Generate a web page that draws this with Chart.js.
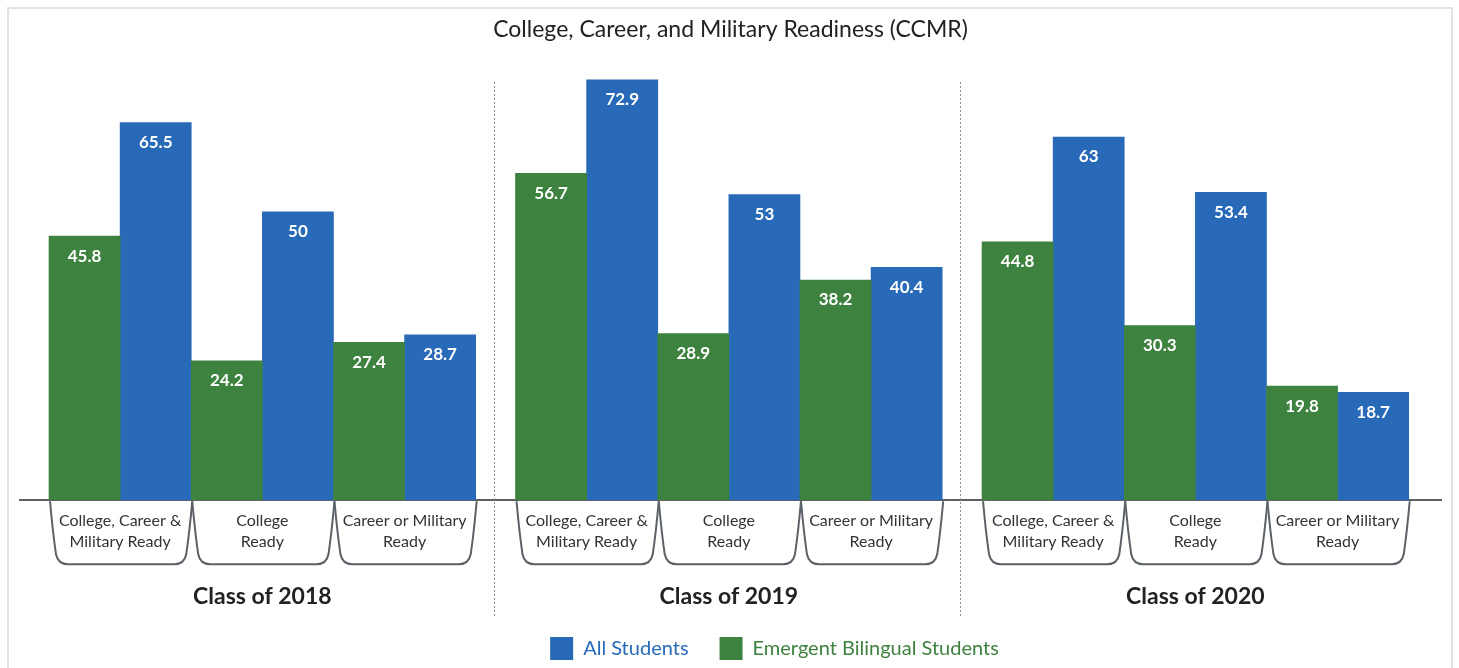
<!DOCTYPE html>
<html>
<head>
<meta charset="utf-8">
<script src="https://cdn.jsdelivr.net/npm/chart.js@4.4.1/dist/chart.umd.min.js"></script>
<style>
  html, body { margin: 0; padding: 0; background: #fff; }
  body { width: 1459px; height: 668px; position: relative; overflow: hidden; }
  #frame { position: absolute; left: 7px; top: 7px; width: 1446px; height: 720px; border: 2px solid #dfe3e5; box-sizing: border-box; }
  #wrap { position: absolute; left: 0; top: 0; width: 1459px; height: 668px; }
</style>
</head>
<body>
<div id="frame"></div>
<div id="wrap"><canvas id="ccmrChart"></canvas></div>
<script>
const classes = ['Class of 2018', 'Class of 2019', 'Class of 2020'];
const categories = [['College, Career &', 'Military Ready'], ['College', 'Ready'], ['Career or Military', 'Ready']];
const emergentBilingual = [45.8, 24.2, 27.4, 56.7, 28.9, 38.2, 44.8, 30.3, 19.8];
const allStudents = [65.5, 50, 28.7, 72.9, 53, 40.4, 63, 53.4, 18.7];

const BLUE = '#2869b8';
const GREEN = '#3e8240';
const GAP = 0.28; // space between classes, in category widths

// category i sits in class floor(i/3), slot i%3
const catX = i => Math.floor(i / 3) * (3 + GAP) + (i % 3) + 0.5;
const classX = k => k * (3 + GAP) + 1.5;

// white numbers inside the top of each bar
const barValues = {
  id: 'barValues',
  afterDatasetsDraw(chart) {
    const ctx = chart.ctx;
    ctx.save();
    ctx.fillStyle = '#fff';
    ctx.font = 'bold 17px Lato, "Open Sans", sans-serif';
    ctx.textAlign = 'center';
    ctx.textBaseline = 'middle';
    chart.data.datasets.forEach((ds, d) => {
      chart.getDatasetMeta(d).data.forEach((bar, i) => {
        ctx.fillText(String(ds.values[i]), bar.x, bar.y + 20);
      });
    });
    ctx.restore();
  }
};

// bracket outlines under each category + dotted class separators
const brackets = {
  id: 'brackets',
  afterDraw(chart) {
    const ctx = chart.ctx;
    const x = chart.scales.x;
    const area = chart.chartArea;
    const yT = area.bottom + 1;
    const yB = area.bottom + 64;
    ctx.save();
    ctx.strokeStyle = '#5b6167';
    ctx.lineWidth = 2;
    for (let i = 0; i < allStudents.length; i++) {
      const xL = x.getPixelForValue(catX(i) - 0.5) + 1;
      const xR = x.getPixelForValue(catX(i) + 0.5) + 1;
      ctx.beginPath();
      ctx.moveTo(xL, yT);
      ctx.quadraticCurveTo(xL + 3, yB - 30, xL + 6, yB - 10);
      ctx.quadraticCurveTo(xL + 8, yB, xL + 18, yB);
      ctx.lineTo(xR - 18, yB);
      ctx.quadraticCurveTo(xR - 8, yB, xR - 6, yB - 10);
      ctx.quadraticCurveTo(xR - 3, yB - 30, xR, yT);
      ctx.stroke();
    }
    ctx.strokeStyle = '#8c9298';
    ctx.lineWidth = 1;
    ctx.setLineDash([2, 2]);
    for (let k = 1; k < classes.length; k++) {
      const xs = Math.round(x.getPixelForValue(k * (3 + GAP) - GAP / 2)) - 1.5;
      ctx.beginPath();
      ctx.moveTo(xs, area.top + 20);
      ctx.lineTo(xs, area.bottom + 116);
      ctx.stroke();
    }
    ctx.restore();
  }
};

// the legend in the original sits a bit right of centre
const legendShift = {
  id: 'legendShift',
  afterLayout(chart) {
    chart.legend.left += 44;
    chart.legend.right += 44;
  }
};

Chart.defaults.font.family = 'Lato, "Open Sans", sans-serif';

const ctx = document.getElementById('ccmrChart').getContext('2d');

const ccmrChart = new Chart(ctx, {
  type: 'bar',
  data: {
    datasets: [
      {
        label: 'Emergent Bilingual Students',
        values: emergentBilingual,
        data: emergentBilingual.map((v, i) => ({ x: catX(i), y: v })),
        backgroundColor: GREEN,
        borderWidth: 0
      },
      {
        label: 'All Students',
        values: allStudents,
        data: allStudents.map((v, i) => ({ x: catX(i), y: v })),
        backgroundColor: BLUE,
        borderWidth: 0
      }
    ]
  },
  options: {
    responsive: true,
    maintainAspectRatio: false,
    animation: false,
    categoryPercentage: 1,
    barPercentage: 1,
    layout: { padding: { left: 20, right: 18, top: 0, bottom: -2 } },
    plugins: {
      title: {
        display: true,
        text: 'College, Career, and Military Readiness (CCMR)',
        color: '#222',
        font: { size: 23, weight: 'normal' },
        padding: { top: 16, bottom: 18.4 }
      },
      legend: {
        position: 'bottom',
        reverse: true,
        labels: {
          boxWidth: 23,
          boxHeight: 23,
          padding: 31,
          font: { size: 20 },
          generateLabels: chart => Chart.defaults.plugins.legend.labels.generateLabels(chart)
            .map(item => ({ ...item, fontColor: item.fillStyle, lineWidth: 0 }))
        }
      },
      tooltip: { enabled: false }
    },
    scales: {
      x: {
        type: 'linear',
        position: 'bottom',
        min: -0.204,
        max: 9.787,
        offset: false,
        bounds: 'data',
        grid: { display: false, drawTicks: false },
        border: { display: true, color: '#5b6167', width: 2 },
        afterBuildTicks: s => { s.ticks = allStudents.map((_, i) => ({ value: catX(i) })); },
        ticks: {
          autoSkip: false,
          maxRotation: 0,
          padding: 10,
          color: '#333',
          font: { size: 16, lineHeight: 1.31 },
          callback: (v, i) => categories[i % 3]
        }
      },
      x2: {
        type: 'linear',
        position: 'bottom',
        min: -0.204,
        max: 9.787,
        offset: false,
        bounds: 'data',
        grid: { display: false, drawTicks: false },
        border: { display: false },
        afterBuildTicks: s => { s.ticks = classes.map((_, k) => ({ value: classX(k) })); },
        afterFit: s => { s.height = 20.2 + 27.6 - 4; },
        ticks: {
          autoSkip: false,
          maxRotation: 0,
          padding: 20.2,
          color: '#222',
          font: { size: 23, weight: 'bold', lineHeight: 1.2 },
          callback: (v, i) => classes[i]
        }
      },
      y: {
        display: false,
        min: 0,
        max: 76
      }
    }
  },
  plugins: [barValues, brackets, legendShift]
});
</script>
</body>
</html>
